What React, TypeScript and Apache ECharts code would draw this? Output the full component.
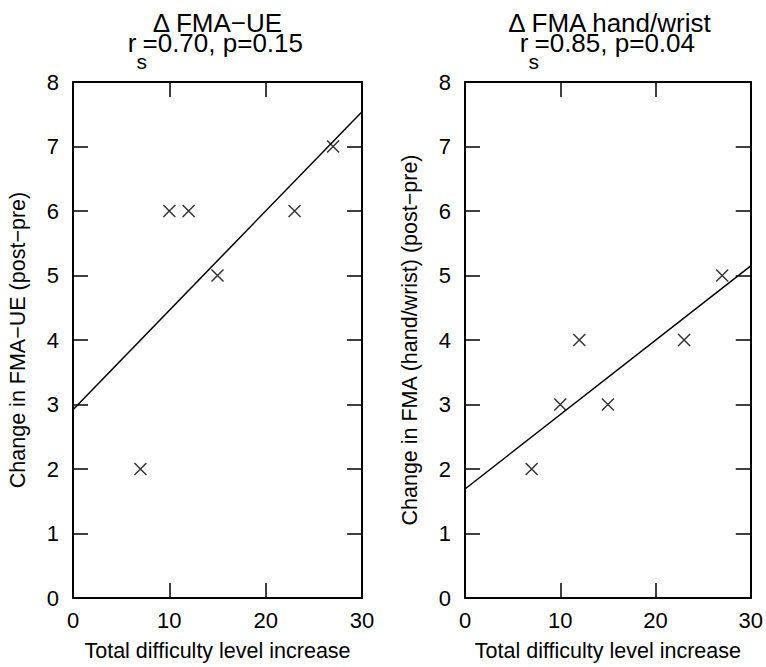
import React, { useEffect, useRef } from "react";
import * as echarts from "echarts";

const xValues = [7, 10, 12, 15, 23, 27];
const fmaUE = [2, 6, 6, 5, 6, 7];
const fmaHand = [2, 3, 4, 3, 4, 5];
const fitUE: [number, number][] = [[0, 2.92], [30, 7.54]];
const fitHand: [number, number][] = [[0, 1.69], [30, 5.15]];
const titles1 = ["\u0394 FMA\u2212UE", "\u0394 FMA hand/wrist"];
const titles2 = ["=0.70, p=0.15", "=0.85, p=0.04"];
const yNames = ["Change in FMA\u2212UE (post\u2212pre)", "Change in FMA (hand/wrist) (post\u2212pre)"];
const xName = "Total difficulty level increase";

const FONT = '"Liberation Sans", Arial, Helvetica, sans-serif';

export default function App() {
  const ref = useRef<HTMLDivElement>(null);
  useEffect(() => {
    if (!ref.current) return;
    const chart = echarts.init(ref.current, null, { renderer: "svg" });
    const grids = [
      { left: 73, width: 289, top: 82, height: 517 },
      { left: 465, width: 289, top: 82, height: 517 },
    ];
    const xAxes: any[] = [];
    const yAxes: any[] = [];
    grids.forEach((g, i) => {
      const common = {
        gridIndex: i,
        type: "value",
        axisLine: { show: true, onZero: false, lineStyle: { color: "#000", width: 2 } },
        axisTick: { show: true, inside: true, length: 15, lineStyle: { color: "#000", width: 1.5 } },
        splitLine: { show: false },
      };
      xAxes.push({
        ...common,
        position: "bottom",
        min: 0,
        max: 30,
        interval: 10,
        axisLabel: { color: "#000", fontSize: 22, fontFamily: FONT, margin: 11 },
        name: xName,
        nameLocation: "middle",
        nameGap: 42,
        nameTextStyle: { color: "#000", fontSize: 21.5, fontFamily: FONT },
      });
      xAxes.push({
        ...common,
        position: "top",
        min: 0,
        max: 30,
        interval: 10,
        axisLabel: { show: false },
      });
      yAxes.push({
        ...common,
        position: "left",
        min: 0,
        max: 8,
        interval: 1,
        axisLabel: { color: "#000", fontSize: 22, fontFamily: FONT, margin: 14 },
        name: yNames[i],
        nameLocation: "middle",
        nameGap: 44,
        nameTextStyle: { color: "#000", fontSize: 21.5, fontFamily: FONT },
      });
      yAxes.push({
        ...common,
        position: "right",
        min: 0,
        max: 8,
        interval: 1,
        axisLabel: { show: false },
      });
    });

    const sets = [
      { ys: fmaUE, fit: fitUE },
      { ys: fmaHand, fit: fitHand },
    ];
    const series: any[] = [];
    sets.forEach((s, i) => {
      series.push({
        type: "line",
        xAxisIndex: i * 2,
        yAxisIndex: i * 2,
        data: s.fit,
        showSymbol: false,
        lineStyle: { color: "#000", width: 1.5 },
        clip: true,
      });
      series.push({
        type: "scatter",
        xAxisIndex: i * 2,
        yAxisIndex: i * 2,
        data: xValues.map((x, k) => [x, s.ys[k]]),
        symbol: "path://M0,0L1,1M1,0L0,1",
        symbolSize: 12,
        itemStyle: { color: "none", borderColor: "#000", borderWidth: 1.5 },
      });
    });

    const graphic: any[] = [];
    grids.forEach((g, i) => {
      const cx = g.left + g.width / 2;
      const eqLeft = cx - 75;
      graphic.push({
        type: "text",
        x: cx,
        y: 23,
        style: { text: titles1[i], fontSize: 26, lineHeight: 18, fontFamily: FONT, fill: "#000", align: "center", verticalAlign: "middle" },
      });
      graphic.push({
        type: "text",
        x: eqLeft,
        y: 43,
        style: { text: titles2[i], fontSize: 26, lineHeight: 18, fontFamily: FONT, fill: "#000", align: "left", verticalAlign: "middle" },
      });
      graphic.push({
        type: "text",
        x: eqLeft - 6,
        y: 43,
        style: { text: "r", fontSize: 26, lineHeight: 18, fontFamily: FONT, fill: "#000", align: "right", verticalAlign: "middle" },
      });
      graphic.push({
        type: "text",
        x: eqLeft - 6,
        y: 61,
        style: { text: "s", fontSize: 21, lineHeight: 12, fontFamily: FONT, fill: "#000", align: "left", verticalAlign: "middle" },
      });
    });

    chart.setOption({
      animation: false,
      backgroundColor: "#fff",
      grid: grids,
      xAxis: xAxes,
      yAxis: yAxes,
      series,
      graphic,
    });
    return () => chart.dispose();
  }, []);
  return <div ref={ref} style={{ width: 766, height: 667, position: "absolute", left: 0, top: 0 }} />;
}
